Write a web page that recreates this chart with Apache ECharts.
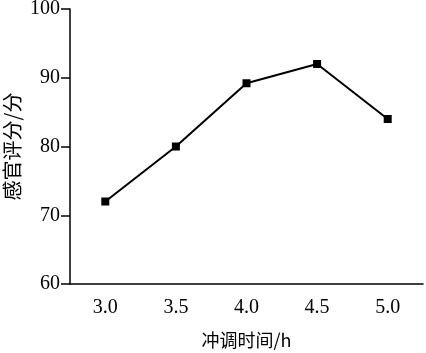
<!DOCTYPE html>
<html>
<head>
<meta charset="utf-8">
<title>感官评分</title>
<script src="https://cdn.jsdelivr.net/npm/echarts@6/dist/echarts.min.js"></script>
<style>
    html, body { margin:0; padding:0; background:#fff; }
    #chart { width:426px; height:353px; }
</style>
</head>
<body>
<div id="chart"></div>
<script>
var hours = ['3.0', '3.5', '4.0', '4.5', '5.0'];
var scores = [72, 80, 89.2, 92, 84];

var chart = echarts.init(document.getElementById('chart'));
var serif = '"Liberation Serif", "Times New Roman", serif';
var cjk = '"Noto Sans CJK SC", sans-serif';

var option = {
    backgroundColor: '#fff',
    animation: false,
    grid: { left: 70, right: 3, top: 9, bottom: 69, outerBoundsMode: 'none', containLabel: false },
    xAxis: {
        type: 'category',
        data: hours,
        boundaryGap: true,
        name: '冲调时间/h',
        nameLocation: 'middle',
        nameGap: 47,
        nameTextStyle: { fontFamily: cjk, fontSize: 18, color: '#000' },
        axisLine: { lineStyle: { color: '#000', width: 1.5 } },
        axisTick: { alignWithLabel: true, inside: true, length: 8, lineStyle: { color: '#000', width: 1.5 } },
        axisLabel: { fontFamily: serif, fontSize: 20, color: '#000', margin: 14 },
        splitLine: { show: false }
    },
    yAxis: {
        type: 'value',
        min: 60,
        max: 100,
        interval: 10,
        name: '感官评分/分',
        nameLocation: 'middle',
        nameGap: 48,
        nameMoveOverlap: false,
        nameRotate: 90,
        nameTextStyle: { fontFamily: cjk, fontSize: 20, color: '#000' },
        axisLine: { show: true, lineStyle: { color: '#000', width: 1.5 } },
        axisTick: { show: true, length: 9, lineStyle: { color: '#000', width: 1.5 } },
        axisLabel: { fontFamily: serif, fontSize: 20, color: '#000', margin: 10 },
        splitLine: { show: false }
    },
    series: [{
        type: 'line',
        data: scores,
        symbol: 'rect',
        symbolSize: 8,
        lineStyle: { color: '#000', width: 2 },
        itemStyle: { color: '#000' }
    }]
};
chart.setOption(option);
</script>
</body>
</html>
